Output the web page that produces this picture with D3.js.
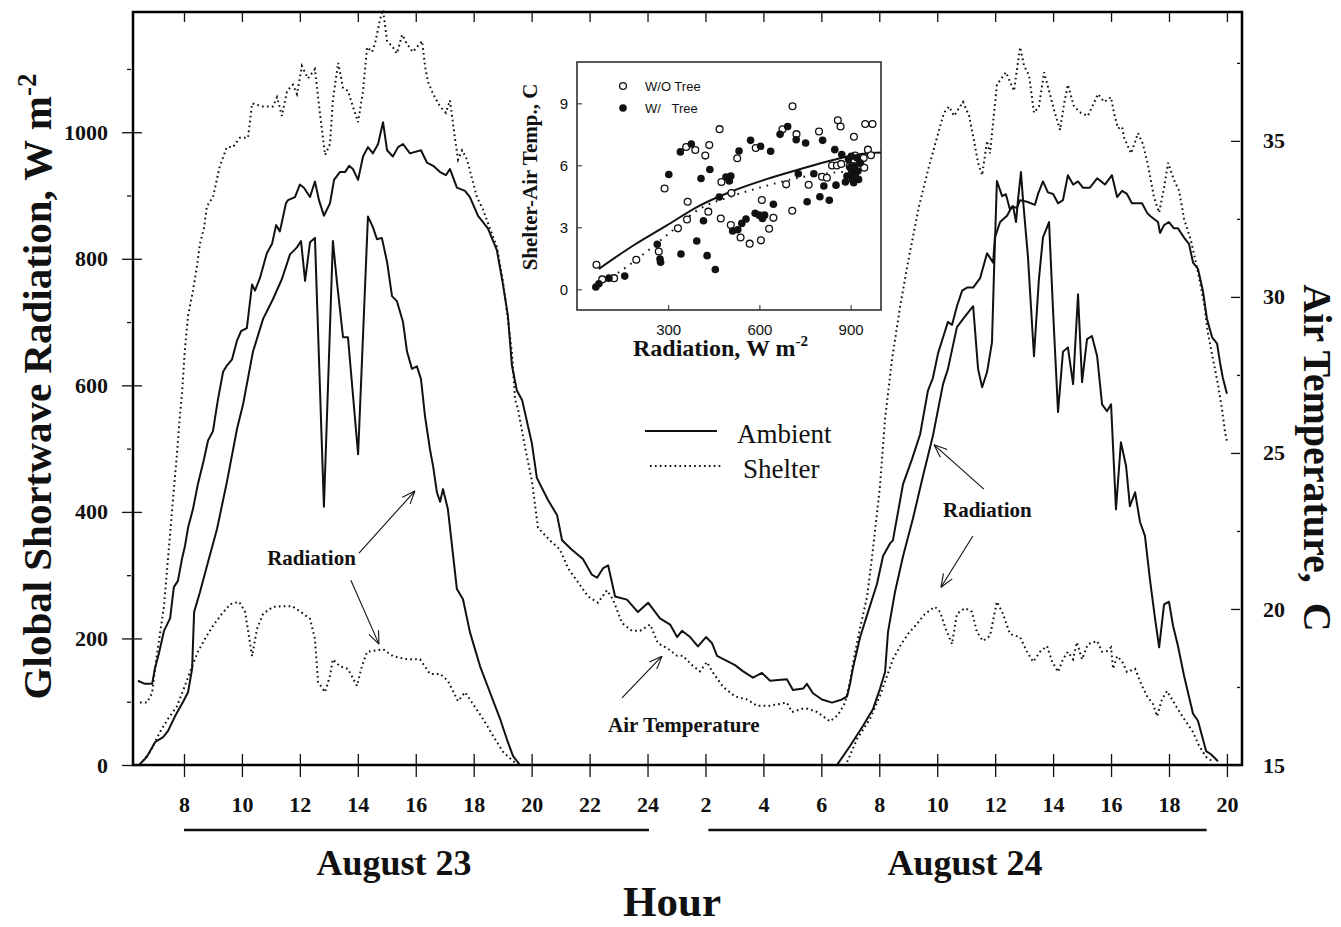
<!DOCTYPE html>
<html>
<head>
<meta charset="utf-8">
<script src="https://cdn.jsdelivr.net/npm/d3@7"></script>
<style>
  body { margin: 0; background: #fff; }
</style>
</head>
<body>
<div id="chart"></div>
<script>
// time is hours counted from Aug 23 00:00 (so 26 = 2 on Aug 24)
const hourTicks = [8, 10, 12, 14, 16, 18, 20, 22, 24, 26, 28, 30, 32, 34, 36, 38, 40, 42, 44];
const radTicks = [0, 200, 400, 600, 800, 1000];
const radMinor = [100, 300, 500, 700, 900, 1100];
const tempTicks = [15, 20, 25, 30, 35];
const tempMinor = [17.5, 22.5, 27.5, 32.5, 37.5];

// air temperature, C (right axis)
const ambientTemp = [[6.41,17.7],[6.65,17.6],[6.90,17.6],[7.00,18.1],[7.14,18.6],[7.31,19.3],[7.52,19.7],[7.65,20.7],[7.79,20.9],[7.93,21.6],[8.03,22.0],[8.14,22.6],[8.31,23.2],[8.48,24.0],[8.69,24.8],[8.83,25.4],[9.00,25.7],[9.17,26.7],[9.35,27.6],[9.48,27.8],[9.66,28.0],[9.83,28.6],[9.97,28.9],[10.17,29.0],[10.35,30.4],[10.45,30.2],[10.62,30.6],[10.86,31.4],[11.04,31.7],[11.18,32.3],[11.31,32.1],[11.52,33.0],[11.59,33.1],[11.83,33.2],[12.00,33.6],[12.14,33.5],[12.35,33.2],[12.52,33.7],[12.66,33.1],[12.83,32.6],[13.04,33.0],[13.18,33.75],[13.38,34.0],[13.56,34.0],[13.70,34.2],[13.83,34.1],[14.01,33.75],[14.18,34.5],[14.35,34.8],[14.52,34.6],[14.70,34.9],[14.87,35.6],[15.01,34.7],[15.21,34.5],[15.39,34.8],[15.56,34.9],[15.80,34.6],[16.18,34.7],[16.39,34.3],[16.60,34.2],[16.84,34.0],[17.04,33.9],[17.18,34.1],[17.42,33.5],[17.70,33.4],[17.87,33.2],[18.15,32.6],[18.49,32.2],[18.80,31.5],[19.01,30.4],[19.18,29.4],[19.32,27.8],[19.49,27.0],[19.67,26.7],[20.01,25.3],[20.18,24.2],[20.56,23.5],[20.88,23.0],[21.05,22.2],[21.39,21.9],[21.77,21.6],[22.08,21.1],[22.26,21.0],[22.46,21.3],[22.64,21.4],[22.88,20.4],[23.29,20.3],[23.67,19.9],[24.02,20.2],[24.43,19.7],[24.78,19.5],[25.02,19.1],[25.19,19.3],[25.47,19.1],[25.74,18.8],[26.02,19.1],[26.23,18.9],[26.40,18.5],[27.02,18.2],[27.30,18.0],[27.64,17.8],[27.95,17.95],[28.23,17.7],[28.81,17.75],[29.02,17.4],[29.37,17.45],[29.50,17.6],[29.71,17.3],[30.02,17.1],[30.37,17.0],[30.71,17.1],[30.89,17.2],[30.99,17.6],[31.09,18.1],[31.34,19.1],[31.61,19.9],[31.92,20.8],[32.13,21.7],[32.37,22.1],[32.47,22.2],[32.82,24.0],[33.13,24.8],[33.41,25.6],[33.68,27.0],[33.85,27.4],[34.03,28.2],[34.20,28.7],[34.37,29.2],[34.51,29.1],[34.68,29.7],[34.86,30.2],[35.03,30.3],[35.24,30.3],[35.48,30.6],[35.72,31.4],[35.93,31.1],[35.99,31.9],[36.17,32.4],[36.41,32.6],[36.58,32.9],[36.75,32.85],[36.86,33.1],[37.10,33.05],[37.37,32.95],[37.48,33.3],[37.65,33.7],[37.82,33.35],[38.00,33.3],[38.17,33.0],[38.34,33.1],[38.51,33.9],[38.69,33.6],[38.86,33.7],[39.03,33.5],[39.27,33.5],[39.52,33.8],[39.79,33.6],[40.03,33.9],[40.21,33.2],[40.38,33.4],[40.55,33.3],[40.72,33.0],[41.07,33.0],[41.24,32.7],[41.34,32.6],[41.62,32.4],[41.69,32.05],[41.83,32.3],[42.00,32.4],[42.17,32.2],[42.31,32.2],[42.52,31.9],[42.69,31.7],[42.83,31.1],[43.00,30.9],[43.17,30.2],[43.31,29.3],[43.49,28.7],[43.66,28.5],[43.76,27.9],[43.86,27.4],[44.00,26.9]];

const shelterTemp = [[6.48,17.0],[6.72,17.0],[6.90,17.3],[7.00,18.1],[7.17,19.2],[7.31,20.1],[7.41,21.2],[7.52,22.4],[7.62,23.5],[7.76,25.0],[7.86,26.2],[7.93,26.9],[8.03,28.3],[8.14,29.4],[8.31,30.2],[8.45,31.0],[8.55,31.7],[8.69,32.2],[8.79,32.9],[9.00,33.2],[9.24,34.2],[9.48,34.8],[9.69,34.8],[9.93,35.1],[10.21,35.1],[10.35,36.2],[10.73,36.1],[11.07,36.1],[11.21,36.4],[11.38,35.8],[11.56,36.6],[11.76,36.8],[11.90,36.5],[12.07,37.4],[12.28,37.0],[12.52,37.3],[12.69,35.9],[12.87,34.55],[13.04,34.9],[13.14,36.3],[13.32,37.5],[13.49,36.7],[13.66,36.6],[13.83,36.1],[14.01,35.6],[14.18,36.6],[14.32,38.0],[14.49,37.85],[14.59,38.1],[14.77,38.9],[14.87,39.2],[15.01,38.2],[15.21,38.0],[15.35,37.8],[15.53,38.4],[15.70,38.1],[15.90,37.85],[16.22,38.2],[16.32,37.4],[16.42,36.9],[16.60,36.5],[16.84,36.1],[17.04,35.9],[17.18,36.3],[17.35,35.1],[17.46,34.4],[17.60,34.7],[17.77,34.4],[17.94,33.8],[18.11,33.2],[18.32,32.8],[18.56,32.2],[18.80,31.6],[19.01,30.5],[19.18,29.3],[19.32,28.2],[19.43,26.7],[19.53,26.4],[19.77,25.2],[20.01,24.1],[20.22,22.6],[20.63,22.2],[20.98,21.9],[21.26,21.3],[21.57,20.9],[21.95,20.4],[22.29,20.2],[22.60,20.6],[22.81,20.3],[23.12,19.55],[23.46,19.3],[23.74,19.3],[24.09,19.5],[24.36,18.9],[24.67,18.75],[25.02,18.5],[25.22,18.5],[25.54,18.2],[25.81,18.0],[26.05,18.3],[26.23,18.0],[26.61,17.5],[27.02,17.2],[27.43,17.1],[27.78,16.9],[28.23,16.9],[28.81,17.0],[28.99,16.7],[29.33,16.8],[29.54,16.8],[29.85,16.7],[30.30,16.4],[30.57,16.6],[30.82,17.0],[30.99,17.7],[31.16,18.6],[31.34,19.4],[31.58,20.4],[31.78,21.9],[32.02,23.9],[32.20,26.1],[32.44,28.0],[32.72,29.7],[33.03,31.3],[33.37,32.9],[33.72,34.2],[33.99,35.1],[34.23,35.9],[34.41,36.1],[34.58,35.8],[34.89,36.25],[35.10,35.8],[35.27,35.0],[35.41,34.3],[35.55,33.9],[35.72,35.0],[35.82,34.6],[36.06,36.8],[36.37,37.2],[36.65,36.6],[36.86,38.0],[37.00,37.4],[37.17,37.1],[37.34,35.9],[37.51,36.1],[37.69,37.2],[37.86,36.6],[38.03,36.0],[38.24,35.35],[38.38,36.2],[38.51,36.8],[38.72,36.1],[38.96,35.9],[39.20,35.8],[39.55,36.5],[39.76,36.25],[40.00,36.4],[40.10,35.9],[40.24,35.4],[40.38,35.45],[40.45,35.1],[40.69,34.6],[40.93,35.25],[41.10,34.9],[41.28,34.2],[41.48,33.2],[41.66,32.7],[41.83,33.5],[41.97,34.3],[42.17,33.75],[42.35,33.4],[42.52,32.5],[42.76,31.8],[43.00,30.8],[43.21,29.8],[43.35,28.8],[43.52,28.0],[43.69,27.2],[43.83,26.4],[43.93,25.7],[44.00,25.35]];

// global shortwave radiation, W m-2 (left axis)
const ambientRad = [[6.45,0],[6.72,13],[7.00,36],[7.28,44],[7.45,54],[7.69,77],[7.97,100],[8.14,115],[8.28,152],[8.35,242],[8.55,273],[8.79,314],[9.14,373],[9.48,447],[9.83,531],[10.04,570],[10.38,653],[10.73,705],[11.07,736],[11.38,768],[11.66,807],[11.90,818],[12.04,828],[12.18,765],[12.35,826],[12.52,833],[12.83,408],[13.14,828],[13.28,763],[13.49,676],[13.66,676],[14.01,491],[14.35,867],[14.52,850],[14.66,831],[14.83,833],[15.01,795],[15.18,741],[15.35,733],[15.56,700],[15.70,653],[15.87,626],[16.04,630],[16.18,610],[16.32,551],[16.49,499],[16.60,472],[16.73,431],[16.84,416],[16.94,436],[17.11,404],[17.42,278],[17.63,262],[17.87,210],[18.22,156],[18.56,115],[18.91,73],[19.18,36],[19.36,14],[19.60,0],
  [30.54,0],[30.99,30],[31.44,62],[31.78,88],[32.02,120],[32.20,147],[32.30,210],[32.54,273],[32.82,330],[33.16,389],[33.51,457],[33.85,520],[34.20,602],[34.37,626],[34.68,692],[34.96,709],[35.24,725],[35.41,626],[35.55,597],[35.72,621],[35.89,668],[35.96,779],[36.06,923],[36.24,899],[36.37,902],[36.51,878],[36.62,883],[36.72,858],[36.79,894],[36.89,937],[36.96,894],[37.13,804],[37.34,646],[37.51,768],[37.65,834],[37.86,858],[38.00,716],[38.17,558],[38.34,653],[38.51,660],[38.69,602],[38.86,744],[39.00,605],[39.17,673],[39.34,678],[39.52,646],[39.69,570],[39.86,559],[40.00,570],[40.17,404],[40.34,510],[40.52,472],[40.65,409],[40.83,431],[41.00,384],[41.17,362],[41.34,294],[41.52,231],[41.66,186],[41.83,254],[42.00,258],[42.14,220],[42.31,188],[42.52,141],[42.83,81],[43.00,70],[43.28,22],[43.45,17],[43.69,6]];

const shelterRad = [[6.58,6],[6.83,21],[7.17,52],[7.45,73],[7.76,93],[8.03,125],[8.28,156],[8.48,179],[8.72,199],[9.00,220],[9.31,239],[9.59,254],[9.90,258],[10.11,242],[10.35,172],[10.52,215],[10.73,239],[11.07,250],[11.42,251],[11.73,251],[12.00,243],[12.35,231],[12.52,199],[12.63,131],[12.87,115],[13.04,141],[13.14,167],[13.38,156],[13.66,152],[13.97,125],[14.14,156],[14.32,179],[14.87,183],[15.21,172],[15.70,167],[16.15,167],[16.49,144],[16.84,144],[17.11,133],[17.46,101],[17.70,115],[17.98,96],[18.32,73],[18.67,46],[19.01,21],[19.36,6],[19.60,0],
  [30.89,5],[31.23,41],[31.68,73],[32.02,109],[32.27,141],[32.47,167],[32.72,188],[32.99,207],[33.30,223],[33.58,239],[33.92,250],[34.10,242],[34.27,218],[34.51,191],[34.68,239],[34.96,248],[35.20,242],[35.37,210],[35.58,196],[35.82,204],[36.06,258],[36.27,239],[36.51,207],[36.86,202],[37.10,179],[37.31,163],[37.55,179],[37.79,188],[37.96,164],[38.17,147],[38.34,167],[38.51,179],[38.69,167],[38.82,194],[39.00,167],[39.20,191],[39.52,196],[39.69,179],[39.86,180],[40.00,186],[40.07,152],[40.21,172],[40.38,164],[40.55,147],[40.83,152],[41.07,125],[41.24,109],[41.45,96],[41.59,77],[41.76,104],[41.93,117],[42.14,101],[42.31,88],[42.52,73],[42.83,52],[43.04,30],[43.28,13],[43.52,5]];

// inset: radiation (W m-2) vs shelter-air temperature difference (C)
const woTree = [[64,1.19],[83,0.48],[122,0.54],[195,1.43],[269,1.83],[288,4.88],[332,2.95],[364,4.24],[362,3.38],[359,6.89],[389,6.74],[422,6.47],[432,3.76],[435,6.98],[469,7.75],[473,3.43],[475,5.19],[506,3.11],[508,4.66],[538,2.51],[527,6.34],[568,2.21],[588,6.84],[605,2.37],[608,4.32],[632,2.93],[646,3.46],[676,7.74],[688,5.08],[709,8.86],[722,7.51],[708,3.80],[762,5.06],[796,7.64],[806,5.45],[822,5.40],[839,5.99],[855,5.99],[869,6.07],[858,8.18],[867,7.88],[911,7.38],[897,5.96],[915,6.47],[932,6.12],[945,5.88],[943,6.36],[957,6.76],[967,6.49],[948,8.0],[972,8.0],[906,5.96]];
const wTree = [[62,0.11],[72,0.27],[105,0.54],[157,0.64],[264,2.18],[273,1.47],[275,1.31],[302,5.56],[340,6.65],[342,1.71],[376,7.03],[394,2.34],[408,5.36],[416,3.32],[437,5.80],[428,1.63],[455,0.96],[468,4.47],[490,5.43],[506,5.48],[501,5.24],[512,2.82],[529,2.88],[542,3.19],[556,3.40],[533,6.69],[571,7.21],[586,3.68],[599,3.59],[610,3.43],[604,6.92],[617,3.59],[637,6.68],[646,4.12],[668,7.50],[693,7.88],[721,7.24],[728,5.59],[752,7.08],[757,4.24],[779,5.59],[799,4.48],[808,7.21],[812,5.00],[830,4.31],[848,6.76],[852,5.04],[871,6.52],[883,5.19],[893,6.28],[899,5.88],[904,5.64],[888,5.48],[913,5.96],[906,5.32],[915,5.48],[924,5.72],[931,6.12],[921,6.36],[902,6.44],[910,5.16],[926,5.32]];
const fitWoTree = [[72,0.99],[184,2.11],[293,3.07],[402,4.04],[512,4.76],[621,5.32],[730,5.80],[839,6.25],[948,6.57],[1000,6.62]];
const fitWTree = [[72,0.19],[184,1.31],[293,2.59],[402,3.88],[512,4.52],[621,5.0],[730,5.4],[839,5.64],[926,5.72]];
const insetXTicks = [300, 600, 900];
const insetYTicks = [0, 3, 6, 9];

const width = 1341, height = 927;
const plot = { left: 133, right: 1242, top: 12, bottom: 765 };
const serif = "'Liberation Serif', 'Times New Roman', serif";
const sans = "'Liberation Sans', Arial, sans-serif";

const svg = d3.select("#chart")
    .append("svg")
    .attr("width", width)
    .attr("height", height)
    .style("font-family", serif)
    .style("fill", "#111");

// Scales
const x = d3.scaleLinear().domain([6.24, 44.52]).range([plot.left, plot.right]);
const yRad = d3.scaleLinear().domain([0, 1190]).range([plot.bottom, plot.top]);
const yTemp = d3.scaleLinear().domain([15, 39.13]).range([plot.bottom, plot.top]);

const radLine = d3.line().x(d => x(d[0])).y(d => yRad(d[1]));
const tempLine = d3.line().x(d => x(d[0])).y(d => yTemp(d[1]));

// split on the night gap so radiation drops to zero for each day
const byDay = arr => [arr.filter(d => d[0] < 26), arr.filter(d => d[0] >= 26)];

const dots = "1.7,3.2";

svg.append("path").datum(shelterTemp)
    .attr("d", tempLine).style("fill", "none").attr("stroke", "#111")
    .attr("stroke-width", 2).attr("stroke-dasharray", dots);
svg.append("path").datum(ambientTemp)
    .attr("d", tempLine).style("fill", "none").attr("stroke", "#111")
    .attr("stroke-width", 2).attr("stroke-linejoin", "round");

byDay(shelterRad).forEach(day => {
    svg.append("path").datum(day)
        .attr("d", radLine).style("fill", "none").attr("stroke", "#111")
        .attr("stroke-width", 2).attr("stroke-dasharray", dots);
});
byDay(ambientRad).forEach(day => {
    svg.append("path").datum(day)
        .attr("d", radLine).style("fill", "none").attr("stroke", "#111")
        .attr("stroke-width", 2).attr("stroke-linejoin", "round");
});

// Frame
svg.append("rect")
    .attr("x", plot.left).attr("y", plot.top)
    .attr("width", plot.right - plot.left).attr("height", plot.bottom - plot.top)
    .style("fill", "none").attr("stroke", "#000").attr("stroke-width", 2.5);

const styleAxis = (g, size) => {
    g.select(".domain").remove();
    g.attr("font-family", null).attr("font-size", size).attr("font-weight", "bold");
    g.selectAll("line").attr("stroke", "#111").attr("stroke-width", 1.3);
    g.selectAll("text").attr("fill", "#111");
};

// Hour axis: ticks cross the bottom spine, inward ticks on top spine
const hourFmt = h => (h <= 24 ? h : h - 24);
svg.append("g").attr("transform", `translate(0,${plot.bottom})`)
    .call(d3.axisBottom(x).tickValues(hourTicks).tickSize(12).tickPadding(19).tickFormat(hourFmt))
    .call(g => styleAxis(g, 22));
svg.append("g").attr("transform", `translate(0,${plot.bottom})`)
    .call(d3.axisTop(x).tickValues(hourTicks).tickSize(11).tickFormat(""))
    .call(g => styleAxis(g, 22));
svg.append("g").attr("transform", `translate(0,${plot.top})`)
    .call(d3.axisBottom(x).tickValues(hourTicks).tickSize(10).tickFormat(""))
    .call(g => styleAxis(g, 22));

// Left radiation axis
svg.append("g").attr("transform", `translate(${plot.left},0)`)
    .call(d3.axisLeft(yRad).tickValues(radTicks).tickSize(11).tickPadding(14).tickFormat(d3.format("d")))
    .call(g => styleAxis(g, 22));
svg.append("g").attr("transform", `translate(${plot.left},0)`)
    .call(d3.axisRight(yRad).tickValues(radTicks).tickSize(9).tickFormat(""))
    .call(g => styleAxis(g, 22));
svg.append("g").attr("transform", `translate(${plot.left - 2},0)`)
    .call(d3.axisLeft(yRad).tickValues(radMinor).tickSize(4).tickFormat(""))
    .call(g => styleAxis(g, 22));

// Right temperature axis
svg.append("g").attr("transform", `translate(${plot.right},0)`)
    .call(d3.axisRight(yTemp).tickValues(tempTicks).tickSize(0).tickPadding(21))
    .call(g => styleAxis(g, 22));
svg.append("g").attr("transform", `translate(${plot.right - 2},0)`)
    .call(d3.axisLeft(yTemp).tickValues(tempTicks).tickSize(9).tickFormat(""))
    .call(g => styleAxis(g, 22));
svg.append("g").attr("transform", `translate(${plot.right - 2},0)`)
    .call(d3.axisLeft(yTemp).tickValues(tempMinor).tickSize(3).tickFormat(""))
    .call(g => styleAxis(g, 22));

// Axis titles
const leftTitle = svg.append("text")
    .attr("transform", `translate(51,${(yRad(0) + yRad(1190)) / 2 - 2}) rotate(-90)`)
    .attr("text-anchor", "middle")
    .attr("font-size", 41).attr("font-weight", "bold")
    .text("Global Shortwave Radiation, W m");
leftTitle.append("tspan").attr("dy", -15).attr("font-size", 27).text("-2");

svg.append("text")
    .attr("transform", `translate(1304,458) rotate(90)`)
    .attr("text-anchor", "middle")
    .attr("font-size", 40).attr("font-weight", "bold")
    .style("white-space", "pre")
    .text("Air Temperature,  C");

// Day bars and labels under the hour axis
const days = [
    { label: "August 23", from: 8, to: 24.05 },
    { label: "August 24", from: 26.1, to: 43.3 }
];
days.forEach(d => {
    svg.append("line")
        .attr("x1", x(d.from)).attr("x2", x(d.to))
        .attr("y1", 830).attr("y2", 830)
        .attr("stroke", "#111").attr("stroke-width", 2.5);
});
svg.append("text").attr("x", 394).attr("y", 875).attr("text-anchor", "middle")
    .attr("font-size", 36).attr("font-weight", "bold").text(days[0].label);
svg.append("text").attr("x", 965).attr("y", 875).attr("text-anchor", "middle")
    .attr("font-size", 36).attr("font-weight", "bold").text(days[1].label);
svg.append("text").attr("x", 672).attr("y", 916).attr("text-anchor", "middle")
    .attr("font-size", 43).attr("font-weight", "bold").text("Hour");

// Legend
svg.append("line").attr("x1", 645).attr("x2", 717).attr("y1", 431).attr("y2", 431)
    .attr("stroke", "#111").attr("stroke-width", 2);
svg.append("text").attr("x", 737).attr("y", 443).attr("font-size", 27).text("Ambient");
svg.append("line").attr("x1", 650).attr("x2", 722).attr("y1", 466).attr("y2", 466)
    .attr("stroke", "#111").attr("stroke-width", 2).attr("stroke-dasharray", dots);
svg.append("text").attr("x", 743).attr("y", 478).attr("font-size", 27).text("Shelter");

// Annotations (positions in hours / W m-2)
const arrow = (t1, w1, t2, w2) => {
    const x1 = x(t1), y1 = yRad(w1), x2 = x(t2), y2 = yRad(w2);
    const a = Math.atan2(y2 - y1, x2 - x1);
    const len = 14, spread = 0.38;
    svg.append("line").attr("x1", x1).attr("y1", y1).attr("x2", x2).attr("y2", y2)
        .attr("stroke", "#111").attr("stroke-width", 1.1);
    [-spread, spread].forEach(s => {
        svg.append("line").attr("x1", x2).attr("y1", y2)
            .attr("x2", x2 - len * Math.cos(a + s)).attr("y2", y2 - len * Math.sin(a + s))
            .attr("stroke", "#111").attr("stroke-width", 1.1);
    });
};
const note = (t, w, label) => {
    svg.append("text").attr("x", x(t)).attr("y", yRad(w))
        .attr("font-size", 21).attr("font-weight", "bold").text(label);
};
note(10.87, 316, "Radiation");
arrow(14.04, 335, 15.97, 433);
arrow(13.76, 292, 14.73, 191);
note(22.64, 52, "Air Temperature");
arrow(23.12, 106, 24.50, 172);
note(34.20, 392, "Radiation");
arrow(35.61, 436, 33.89, 506);
arrow(35.23, 362, 34.13, 281);

// Inset scatter
const inset = { left: 577, right: 881, top: 62, bottom: 310 };
const ix = d3.scaleLinear().domain([0, 1000]).range([inset.left, inset.right]);
const iy = d3.scaleLinear().domain([-1, 11]).range([inset.bottom, inset.top]);

const ig = svg.append("g");
ig.append("rect")
    .attr("x", inset.left).attr("y", inset.top)
    .attr("width", inset.right - inset.left).attr("height", inset.bottom - inset.top)
    .style("fill", "#fff").attr("stroke", "#222").attr("stroke-width", 1.5);

const fitLine = d3.line().x(d => ix(d[0])).y(d => iy(d[1])).curve(d3.curveMonotoneX);
ig.append("path").datum(fitWoTree).attr("d", fitLine)
    .style("fill", "none").attr("stroke", "#111").attr("stroke-width", 2);
ig.append("path").datum(fitWTree).attr("d", fitLine)
    .style("fill", "none").attr("stroke", "#111").attr("stroke-width", 2)
    .attr("stroke-dasharray", "1.6,6");

ig.selectAll(".wo").data(woTree).enter().append("circle")
    .attr("cx", d => ix(d[0])).attr("cy", d => iy(d[1])).attr("r", 3.4)
    .style("fill", "#fff").attr("stroke", "#111").attr("stroke-width", 1.3);
ig.selectAll(".w").data(wTree).enter().append("circle")
    .attr("cx", d => ix(d[0])).attr("cy", d => iy(d[1])).attr("r", 3.8)
    .style("fill", "#111");

const styleInset = g => {
    g.select(".domain").remove();
    g.attr("font-family", null).style("font-family", sans).attr("font-size", 15);
    g.selectAll("line").attr("stroke", "#222");
    g.selectAll("text").attr("fill", "#111");
};
ig.append("g").attr("transform", `translate(0,${inset.bottom})`)
    .call(d3.axisBottom(ix).tickValues(insetXTicks).tickSize(0).tickPadding(14))
    .call(styleInset);
ig.append("g").attr("transform", `translate(0,${inset.bottom})`)
    .call(d3.axisTop(ix).tickValues(insetXTicks).tickSize(5).tickFormat(""))
    .call(styleInset);
ig.append("g").attr("transform", `translate(${inset.left},0)`)
    .call(d3.axisLeft(iy).tickValues(insetYTicks).tickSize(0).tickPadding(9))
    .call(styleInset);
ig.append("g").attr("transform", `translate(${inset.left},0)`)
    .call(d3.axisRight(iy).tickValues(insetYTicks).tickSize(5).tickFormat(""))
    .call(styleInset);

// inset legend
ig.append("circle").attr("cx", 623).attr("cy", 86).attr("r", 3.4)
    .style("fill", "#fff").attr("stroke", "#111").attr("stroke-width", 1.3);
ig.append("text").attr("x", 645).attr("y", 91).style("font-family", sans).attr("font-size", 13)
    .text("W/O Tree");
ig.append("circle").attr("cx", 623).attr("cy", 108).attr("r", 3.8).style("fill", "#111");
ig.append("text").attr("x", 645).attr("y", 113).style("font-family", sans).attr("font-size", 13)
    .style("white-space", "pre").text("W/   Tree");

// inset titles
const ixTitle = ig.append("text").attr("x", 633).attr("y", 356)
    .attr("font-size", 24).attr("font-weight", "bold").text("Radiation, W m");
ixTitle.append("tspan").attr("dy", -10).attr("font-size", 15).text("-2");

ig.append("text")
    .attr("transform", `translate(537,${(inset.top + inset.bottom) / 2 - 9}) rotate(-90)`)
    .attr("text-anchor", "middle")
    .attr("font-size", 21).attr("font-weight", "bold")
    .text("Shelter-Air Temp., C");
</script>
</body>
</html>
